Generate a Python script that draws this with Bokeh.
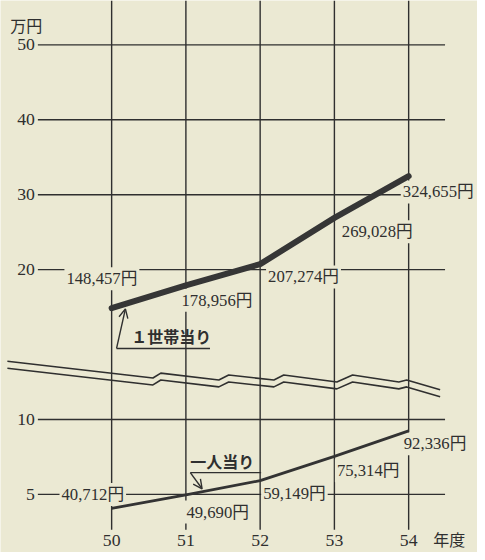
from bokeh.plotting import figure
from bokeh.models import Range1d, ColumnDataSource, Arrow, OpenHead
from bokeh.core.properties import value
from bokeh.embed import file_html
from bokeh.resources import INLINE

# ---------------- data ----------------
years = [50, 51, 52, 53, 54]
year_labels = ["50", "51", "52", "53", "54"]
per_household_yen = [148457, 178956, 207274, 269028, 324655]
per_person_yen = [40712, 49690, 59149, 75314, 92336]
upper_ticks = [20, 30, 40, 50]
lower_ticks = [5, 10]
y_unit = "万円"
x_unit = "年度"
household_name = "１世帯当り"
person_name = "一人当り"

# ---------------- layout calibration (reference pixels, 485 x 560 canvas) ----------------
W, H = 477, 552
REF_W, REF_H = 485, 560
X50_PX, X_STEP = 113.0, 75.5          # x pixel of year 50, px per year
LOW0_PX, LOW_STEP = 577.0, 15.2       # lower scale: px of 0, px per 万円
UP0_PX, UP_STEP = 425.0, 7.6          # upper scale: px of 0, px per 万円

def xd(px):
    return 50 + (px - X50_PX) / X_STEP

def yl(py):
    return (LOW0_PX - py) / LOW_STEP

def yu(py):
    return (UP0_PX - py) / UP_STEP

PAPER = "#ebe9d3"
INK = "#2f2f2f"
SERIF = value("'Liberation Serif', 'Noto Sans CJK JP'")
GOTHIC = value("Noto Sans CJK JP")

p = figure(width=W, height=H, output_backend="svg", toolbar_location=None,
           x_range=Range1d(xd(0), xd(REF_W)),
           y_range=Range1d(yl(REF_H), yl(0)),
           min_border=0, x_axis_type=None, y_axis_type=None)
p.extra_y_ranges = {"upper": Range1d(yu(REF_H), yu(0))}
p.background_fill_color = PAPER
p.border_fill_color = PAPER
p.outline_line_color = None
p.xgrid.visible = False
p.ygrid.visible = False

# grid lines
p.segment(x0=[xd(38)] * len(upper_ticks), x1=[xd(452)] * len(upper_ticks),
          y0=upper_ticks, y1=upper_ticks, y_range_name="upper",
          line_color=INK, line_width=1.4)
p.segment(x0=[xd(38)] * len(lower_ticks), x1=[xd(452)] * len(lower_ticks),
          y0=lower_ticks, y1=lower_ticks, line_color=INK, line_width=1.4)
p.segment(x0=years, x1=years, y0=[yl(537)] * len(years), y1=[yl(0)] * len(years),
          line_color=INK, line_width=1.4)

# axis break symbol (decoration)
BREAK_PX = [(7, 366), (155, 383), (163, 378), (222, 385), (232, 380), (278, 385),
            (288, 380), (342, 387), (358, 380), (405, 387), (413, 385), (447, 395)]
for shift in (0, 7):
    p.line([xd(a) for a, b in BREAK_PX], [yl(b + shift) for a, b in BREAK_PX],
           line_color=INK, line_width=1.6)

hh = [v / 10000 for v in per_household_yen]
pp = [v / 10000 for v in per_person_yen]

# tick labels
p.text(x=[xd(35)] * len(upper_ticks), y=upper_ticks, text=[str(t) for t in upper_ticks],
       y_range_name="upper", text_align="right", text_baseline="middle",
       text_font=SERIF, text_font_size="17.7px", text_color=INK)
p.text(x=[xd(35)] * len(lower_ticks), y=lower_ticks, text=[str(t) for t in lower_ticks],
       text_align="right", text_baseline="middle",
       text_font=SERIF, text_font_size="17.7px", text_color=INK)
p.text(x=years, y=[yl(548)] * len(years), text=year_labels,
       text_align="center", text_baseline="middle",
       text_font=SERIF, text_font_size="17.7px", text_color=INK,
       background_fill_color=PAPER)
p.text(x=[xd(10)], y=[yl(26)], text=[y_unit], text_align="left", text_baseline="middle",
       text_font=SERIF, text_font_size="16px", text_color=INK)
p.text(x=[xd(440)], y=[yl(548)], text=[x_unit], text_align="left", text_baseline="middle",
       text_font=SERIF, text_font_size="16px", text_color=INK)

# value labels (offsets in reference px from each point)
hh_dx = [-48, -6.5, 6, 5.5, -8]
hh_dy = [-30, 15, 13, 14, 16]
pp_dx = [-53, -1.5, 1, 0.5, -7]
pp_dy = [-14, 17.5, 13, 14.5, 13]
hh_src = ColumnDataSource(dict(
    x=[y + dx / X_STEP for y, dx in zip(years, hh_dx)],
    y=[v - dy / UP_STEP for v, dy in zip(hh, hh_dy)],
    t=[f"{v:,}円" for v in per_household_yen]))
pp_src = ColumnDataSource(dict(
    x=[y + dx / X_STEP for y, dx in zip(years, pp_dx)],
    y=[v - dy / LOW_STEP for v, dy in zip(pp, pp_dy)],
    t=[f"{v:,}円" for v in per_person_yen]))
p.text(x="x", y="y", text="t", source=hh_src, y_range_name="upper",
       text_align="left", text_baseline="middle", text_font=SERIF,
       text_font_size="16.7px", text_color=INK, background_fill_color=PAPER, padding=2)
p.text(x="x", y="y", text="t", source=pp_src,
       text_align="left", text_baseline="middle", text_font=SERIF,
       text_font_size="16.7px", text_color=INK, background_fill_color=PAPER, padding=2)

# series (drawn above the labels)
p.line(years, hh, y_range_name="upper", line_color="#363636", line_width=6,
       line_cap="round")
p.line(years, pp, line_color="#333333", line_width=2.8)

# callouts
p.text(x=[xd(133)], y=[yu(340)], text=[household_name], y_range_name="upper",
       text_align="left", text_baseline="middle", text_font=GOTHIC,
       text_font_style="bold", text_font_size="16px", text_color=INK)
p.line([xd(118), xd(213)], [yu(353), yu(353)], y_range_name="upper",
       line_color=INK, line_width=1.4)
tip_x = xd(127)
tip_y = hh[0] + (hh[1] - hh[0]) * (tip_x - years[0]) - 5 / UP_STEP
p.add_layout(Arrow(end=OpenHead(size=9, line_color=INK, line_width=1.4),
                   x_start=xd(118), y_start=yu(353), x_end=tip_x, y_end=tip_y,
                   y_range_name="upper", line_color=INK, line_width=1.4))

p.text(x=[xd(193)], y=[yl(467)], text=[person_name],
       text_align="left", text_baseline="middle", text_font=GOTHIC,
       text_font_style="bold", text_font_size="16px", text_color=INK)
p.line([xd(193), xd(265)], [yl(479), yl(479)], line_color=INK, line_width=1.4)
tip2_x = xd(205)
tip2_y = pp[1] + (pp[2] - pp[1]) * (tip2_x - years[1]) + 3 / LOW_STEP
p.add_layout(Arrow(end=OpenHead(size=9, line_color=INK, line_width=1.4),
                   x_start=xd(193), y_start=yl(479), x_end=tip2_x, y_end=tip2_y,
                   line_color=INK, line_width=1.4))

open("out.html", "w").write(file_html(p, INLINE))
